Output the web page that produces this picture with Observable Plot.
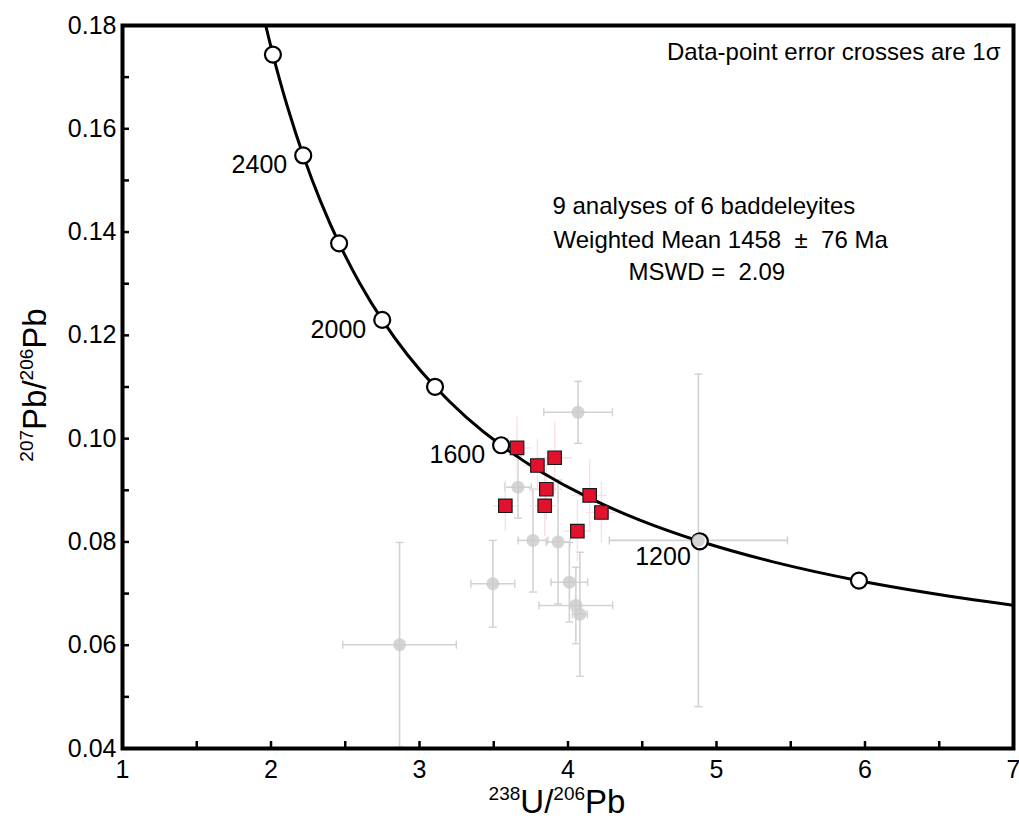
<!DOCTYPE html>
<html>
<head>
<meta charset="utf-8">
<script src="https://cdn.jsdelivr.net/npm/d3@7"></script>
<script src="https://cdn.jsdelivr.net/npm/@observablehq/plot@0.6"></script>
<style>
  html, body { margin: 0; padding: 0; background: #ffffff; }
  body { font-family: "Liberation Sans", Arial, sans-serif; }
  svg text { white-space: pre; }
</style>
</head>
<body>
<div id="chart"></div>
<script>
// Concordia (Tera-Wasserburg) points: age (Ma), 238U/206Pb, 207Pb/206Pb
const concordiaAge = [850, 900, 1000, 1100, 1200, 1300, 1400, 1500, 1600, 1700, 1800, 1900, 2000, 2100, 2200, 2300, 2400, 2500, 2600, 2700];
const concordiaX = [7.0950, 6.6743, 5.9593, 5.3746, 4.8875, 4.4756, 4.1226, 3.8170, 3.5497, 3.3139, 3.1046, 2.9174, 2.7490, 2.5968, 2.4586, 2.3325, 2.2170, 2.1108, 2.0129, 1.9224];
const concordiaY = [0.067395, 0.069042, 0.072499, 0.076188, 0.080122, 0.084323, 0.088806, 0.093598, 0.098716, 0.104183, 0.110037, 0.116294, 0.122986, 0.130148, 0.137822, 0.146037, 0.154836, 0.164259, 0.174366, 0.185204];
const markerAges = [1000, 1200, 1600, 1800, 2000, 2200, 2400, 2600];
const labelAges = [2400, 2000, 1600];
const labelAgesLow = [1200];

// Selected analyses (red squares)
const redX = [3.657, 3.910, 3.794, 3.854, 3.578, 3.843, 4.146, 4.225, 4.063];
const redY = [0.0982, 0.0963, 0.0948, 0.0902, 0.0870, 0.0870, 0.0890, 0.0857, 0.0821];
const redXErr = [0.10, 0.12, 0.09, 0.11, 0.08, 0.10, 0.12, 0.10, 0.09];
const redYErr = [0.006, 0.007, 0.005, 0.006, 0.005, 0.006, 0.007, 0.006, 0.006];

// Other analyses (grey error crosses)
const grayX = [4.068, 4.878, 2.866, 3.494, 4.053, 4.009, 3.764, 3.933, 3.663, 4.080];
const grayY = [0.1051, 0.0803, 0.0601, 0.0719, 0.0677, 0.0722, 0.0803, 0.0800, 0.0906, 0.0660];
const grayXErr = [0.231, 0.60, 0.382, 0.148, 0.248, 0.123, 0.10, 0.08, 0.09, 0.05];
const grayYErr = [0.0060, 0.0322, 0.0198, 0.0084, 0.0074, 0.0077, 0.0100, 0.0120, 0.0060, 0.0120];

// Axis ticks
const xTicks = [1, 2, 3, 4, 5, 6, 7];
const xMinorTicks = [1.5, 2.5, 3.5, 4.5, 5.5, 6.5];
const yTicks = [0.04, 0.06, 0.08, 0.10, 0.12, 0.14, 0.16, 0.18];
const yMinorTicks = [0.05, 0.07, 0.09, 0.11, 0.13, 0.15, 0.17];

const concordia = concordiaAge.map((a, i) => ({age: a, x: concordiaX[i], y: concordiaY[i]}));
const markers = concordia.filter(d => markerAges.includes(d.age));
const labels = concordia.filter(d => labelAges.includes(d.age));
const labelsLow = concordia.filter(d => labelAgesLow.includes(d.age));
const red = redX.map((x, i) => ({x, y: redY[i], xe: redXErr[i], ye: redYErr[i]}));
const gray = grayX.map((x, i) => ({x, y: grayY[i], xe: grayXErr[i], ye: grayYErr[i]}));

const vbar = {draw(ctx, size) { const h = Math.sqrt(size / Math.PI); ctx.moveTo(0, -h); ctx.lineTo(0, h); }};
const hbar = {draw(ctx, size) { const h = Math.sqrt(size / Math.PI); ctx.moveTo(-h, 0); ctx.lineTo(h, 0); }};

const GRAY = "#d2d2d2";
const PINK = "#f8e1e6";
const FONT = "'Liberation Sans', Arial, Helvetica, sans-serif";

const plot = Plot.plot({
  width: 1019,
  height: 827,
  marginLeft: 122,
  marginRight: 6,
  marginTop: 25,
  marginBottom: 79,
  x: {domain: [1, 7]},
  y: {domain: [0.04, 0.18]},
  style: {fontFamily: FONT, fontSize: "25px", color: "black", background: "white", overflow: "visible"},
  marks: [
    // grey error crosses
    Plot.ruleY(gray, {y: "y", x1: d => d.x - d.xe, x2: d => d.x + d.xe, stroke: GRAY, strokeWidth: 1.6, clip: true}),
    Plot.ruleX(gray, {x: "x", y1: d => d.y - d.ye, y2: d => d.y + d.ye, stroke: GRAY, strokeWidth: 1.6, clip: true}),
    Plot.dot(gray, {x: d => d.x - d.xe, y: "y", symbol: vbar, r: 4, stroke: GRAY, strokeWidth: 1.4, clip: true}),
    Plot.dot(gray, {x: d => d.x + d.xe, y: "y", symbol: vbar, r: 4, stroke: GRAY, strokeWidth: 1.4, clip: true}),
    Plot.dot(gray, {x: "x", y: d => d.y - d.ye, symbol: hbar, r: 4, stroke: GRAY, strokeWidth: 1.4, clip: true}),
    Plot.dot(gray, {x: "x", y: d => d.y + d.ye, symbol: hbar, r: 4, stroke: GRAY, strokeWidth: 1.4, clip: true}),
    // pink error crosses of selected analyses
    Plot.ruleY(red, {y: "y", x1: d => d.x - d.xe, x2: d => d.x + d.xe, stroke: PINK, strokeWidth: 1.4}),
    Plot.ruleX(red, {x: "x", y1: d => d.y - d.ye, y2: d => d.y + d.ye, stroke: PINK, strokeWidth: 1.4}),
    // concordia
    Plot.line(concordia, {x: "x", y: "y", stroke: "black", strokeWidth: 3, curve: "catmull-rom", clip: true}),
    Plot.dot(markers, {x: "x", y: "y", r: 8, fill: "white", stroke: "black", strokeWidth: 2.2}),
    // grey centres
    Plot.dot(gray, {x: "x", y: "y", r: 6.5, fill: "#cbcbcb", fillOpacity: 0.8}),
    // age labels
    Plot.text(labels, {x: "x", y: "y", text: d => String(d.age), textAnchor: "end", dx: -16, dy: 10, fontSize: 25, fill: "black"}),
    Plot.text(labelsLow, {x: "x", y: "y", text: d => String(d.age), textAnchor: "end", dx: -9, dy: 16, fontSize: 25, fill: "black"}),
    // selected analyses
    Plot.dot(red, {x: "x", y: "y", symbol: "square", r: 7.6, fill: "#e2122f", stroke: "#1a1a1a", strokeWidth: 1.2}),
    // axes
    Plot.axisX(xTicks, {tickSize: 0, tickPadding: 12, fontSize: 25, label: null, tickFormat: d => String(d)}),
    Plot.axisX([...xTicks, ...xMinorTicks], {tickSize: 7, dy: -7, strokeWidth: 2.5, label: null, tickFormat: () => ""}),
    Plot.axisY(yTicks, {tickSize: 0, tickPadding: 6, fontSize: 25, label: null, tickFormat: d3.format(".2f")}),
    Plot.axisY([...yTicks, ...yMinorTicks], {tickSize: 7, dx: 7, strokeWidth: 2.5, label: null, tickFormat: () => ""}),
    Plot.frame({stroke: "black", strokeWidth: 4}),
    // annotations
    Plot.text(["Data-point error crosses are 1σ"], {frameAnchor: "top-right", textAnchor: "end", lineAnchor: "middle", dx: -13, dy: 27, fontSize: 24, fill: "black"}),
    Plot.text(["9 analyses of 6 baddeleyites"], {frameAnchor: "top-left", textAnchor: "start", lineAnchor: "middle", dx: 430, dy: 181, fontSize: 24, fill: "black"}),
    Plot.text(["Weighted Mean 1458  ±  76 Ma"], {frameAnchor: "top-left", textAnchor: "start", lineAnchor: "middle", dx: 431, dy: 215, fontSize: 24, fill: "black"}),
    Plot.text(["MSWD =  2.09"], {frameAnchor: "top-left", textAnchor: "start", lineAnchor: "middle", dx: 506, dy: 247, fontSize: 24, fill: "black"})
  ]
});

document.getElementById("chart").appendChild(plot);

// Axis titles with superscripts
const svg = d3.select(plot);
const xt = svg.append("text")
  .attr("x", 557).attr("y", 813)
  .attr("text-anchor", "middle")
  .attr("fill", "black")
  .style("font-family", FONT)
  .style("font-size", "33px");
xt.append("tspan").attr("font-size", "19px").attr("dy", -13).text("238");
xt.append("tspan").attr("dy", 13).text("U/");
xt.append("tspan").attr("font-size", "19px").attr("dy", -13).text("206");
xt.append("tspan").attr("dy", 13).text("Pb");

const yt = svg.append("text")
  .attr("transform", "translate(46,385) rotate(-90)")
  .attr("text-anchor", "middle")
  .attr("fill", "black")
  .style("font-family", FONT)
  .style("font-size", "33px");
yt.append("tspan").attr("font-size", "19px").attr("dy", -13).text("207");
yt.append("tspan").attr("dy", 13).text("Pb/");
yt.append("tspan").attr("font-size", "19px").attr("dy", -13).text("206");
yt.append("tspan").attr("dy", 13).text("Pb");
</script>
</body>
</html>
